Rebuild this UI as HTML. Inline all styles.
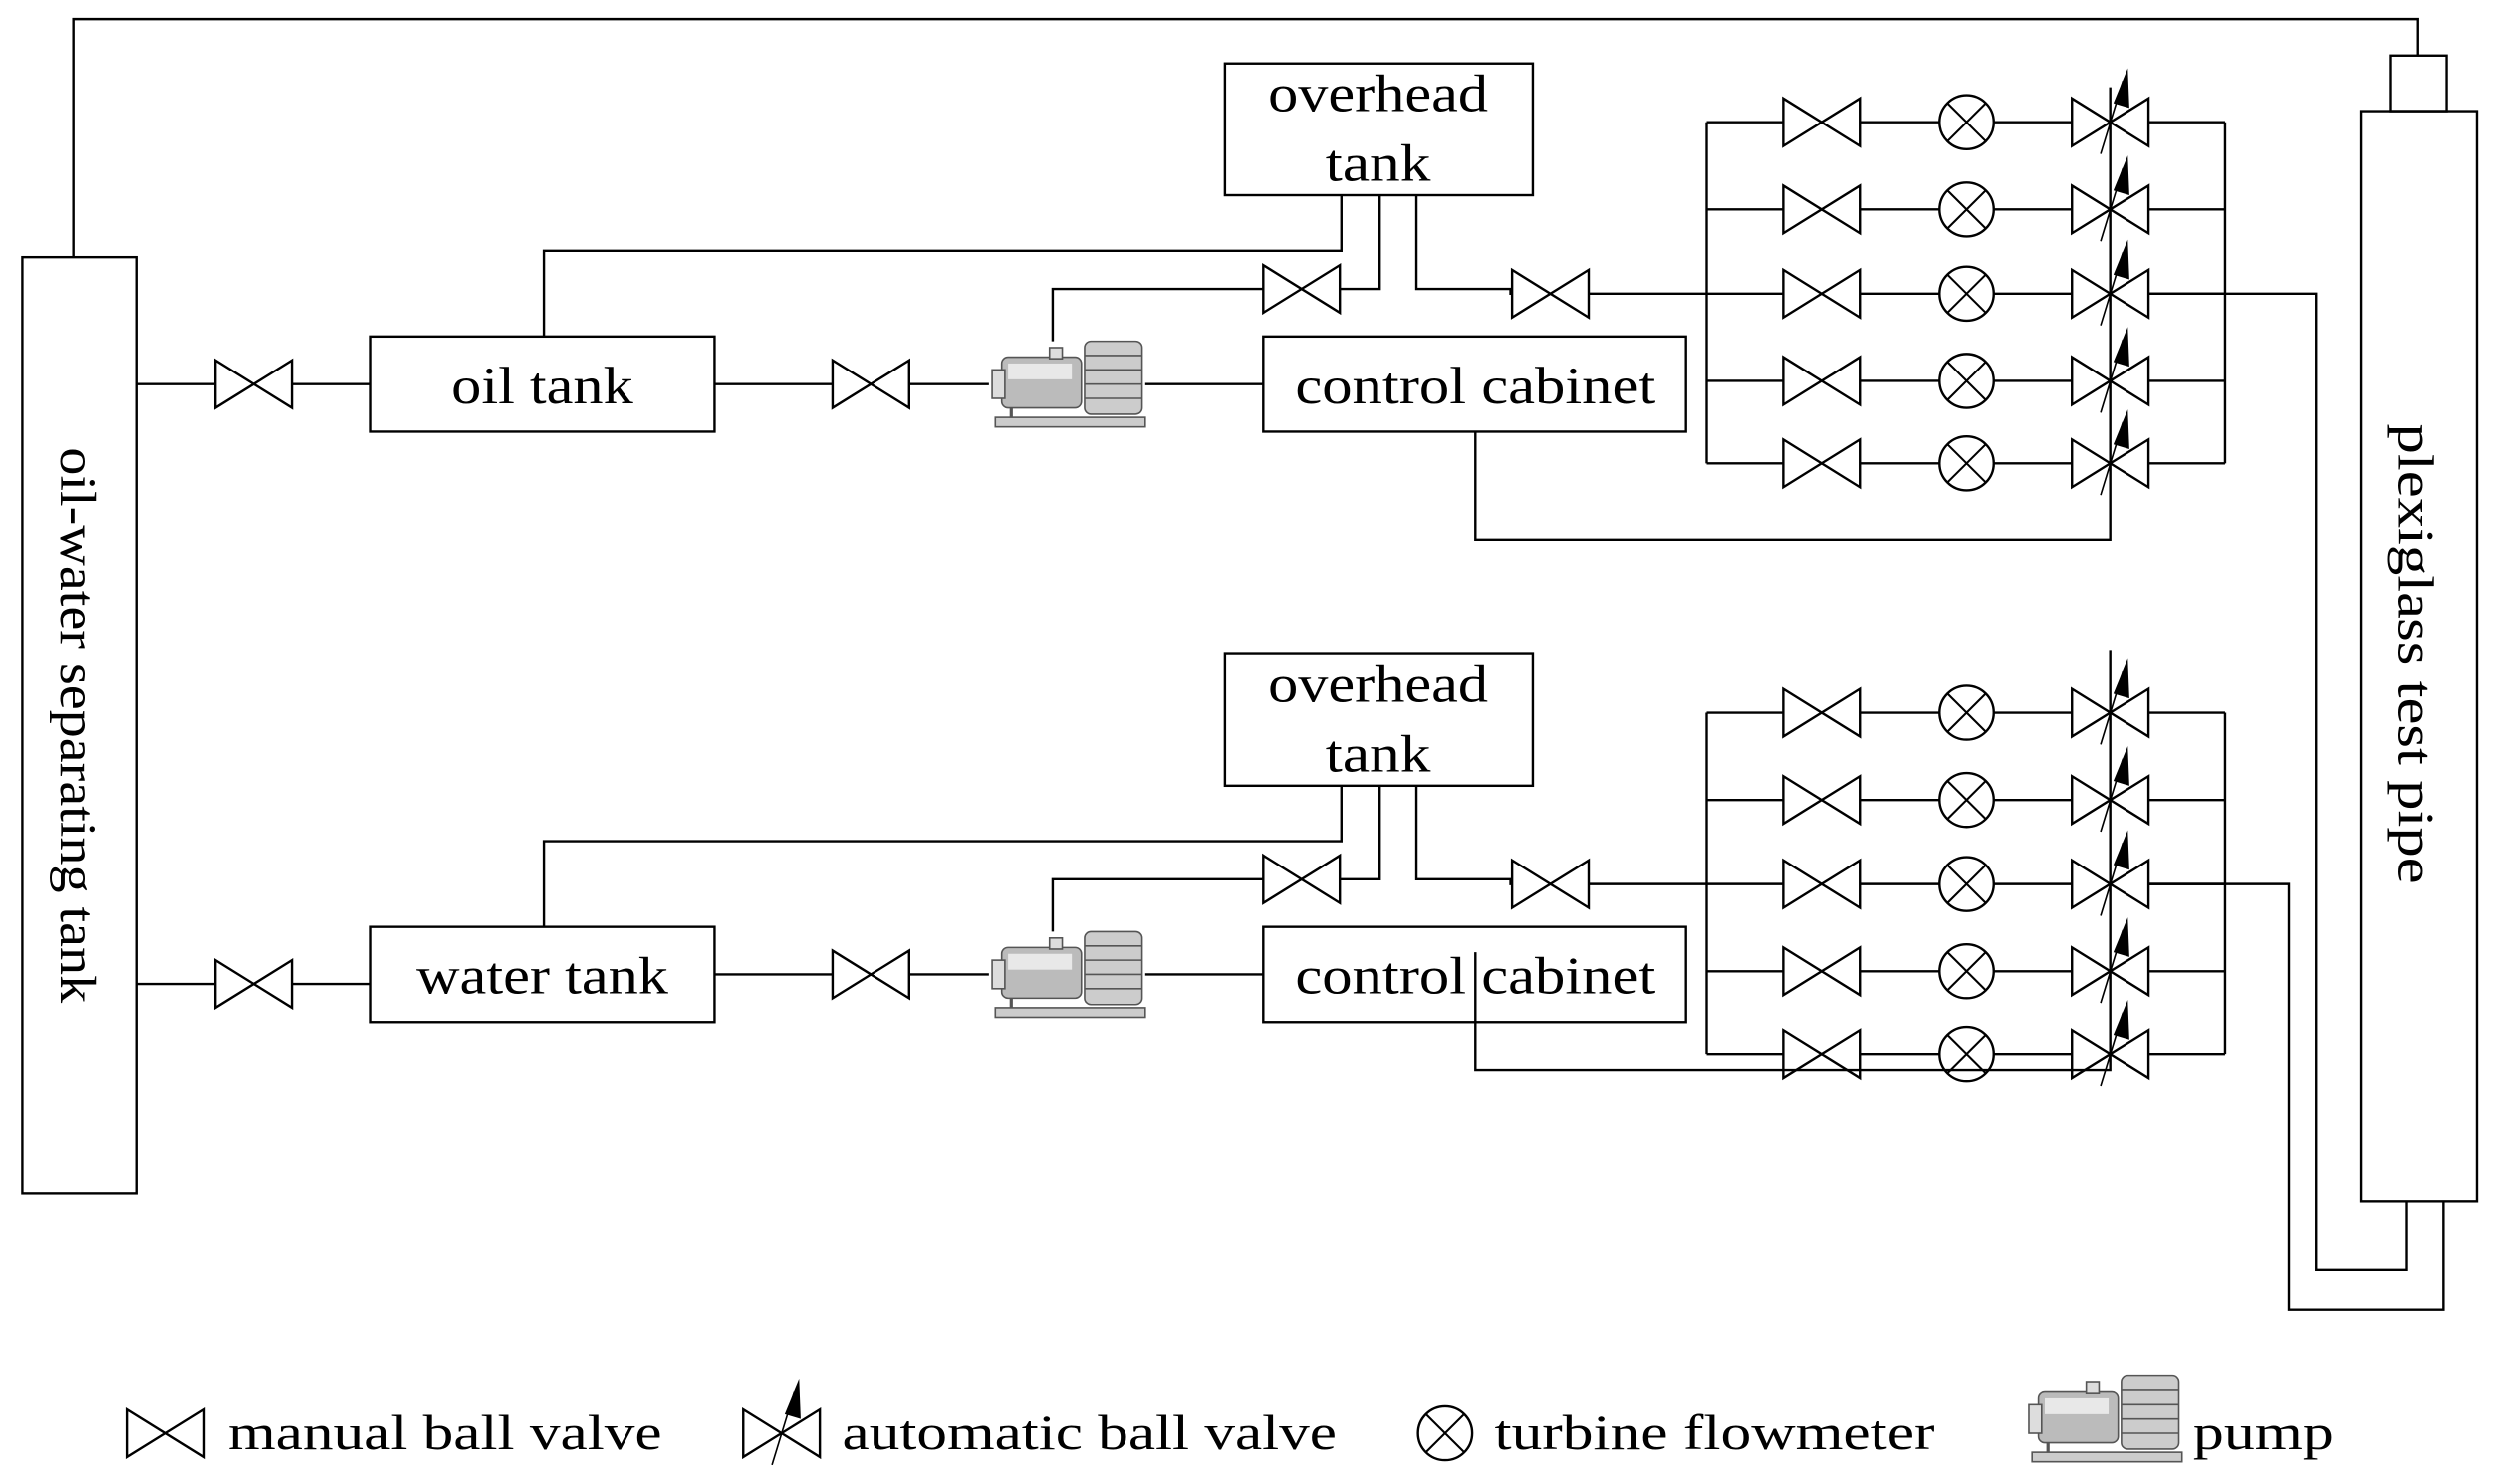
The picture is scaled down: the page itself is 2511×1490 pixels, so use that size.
<!DOCTYPE html>
<html><head><meta charset="utf-8"><style>
html,body{margin:0;padding:0;background:#fff;}
svg{display:block;}
text{font-family:"Liberation Serif",serif;fill:#000;}
</style></head><body>
<svg width="2511" height="1490" viewBox="0 0 1568 935" preserveAspectRatio="none" xmlns="http://www.w3.org/2000/svg">
<defs>
<g id="mv"><path d="M-24,-15 L24,15 L24,-15 L-24,15 Z" fill="#fff" stroke="#000" stroke-width="1.5"/></g>
<g id="av"><path d="M-24,-15 L24,15 L24,-15 L-24,15 Z" fill="#fff" stroke="#000" stroke-width="1.5"/>
<line x1="-6" y1="20" x2="8" y2="-26" stroke="#000" stroke-width="1"/>
<path d="M2,-12 L12,-9 L11,-34 Z" fill="#000"/></g>
<g id="fm"><ellipse cx="0" cy="0" rx="17" ry="17" fill="#fff" stroke="#000" stroke-width="1.5"/>
<line x1="-12" y1="-12" x2="12" y2="12" stroke="#000" stroke-width="1.3"/><line x1="-12" y1="12" x2="12" y2="-12" stroke="#000" stroke-width="1.3"/></g>
<g id="pump">
<rect x="6" y="10" width="50" height="32" rx="4" fill="#bbb" stroke="#555" stroke-width="1"/>
<rect x="10" y="14" width="40" height="10" fill="#e8e8e8"/>
<rect x="0" y="18" width="8" height="18" fill="#ddd" stroke="#555" stroke-width="1"/>
<rect x="58" y="0" width="36" height="46" rx="4" fill="#ccc" stroke="#555" stroke-width="1"/>
<line x1="58" y1="9" x2="94" y2="9" stroke="#555"/><line x1="58" y1="18" x2="94" y2="18" stroke="#555"/>
<line x1="58" y1="27" x2="94" y2="27" stroke="#555"/><line x1="58" y1="36" x2="94" y2="36" stroke="#555"/>
<rect x="36" y="4" width="8" height="7" fill="#ddd" stroke="#555"/>
<rect x="2" y="48" width="94" height="6" fill="#ccc" stroke="#555" stroke-width="1"/>
<line x1="12" y1="42" x2="12" y2="48" stroke="#555" stroke-width="2"/>
</g>
<g id="sys">
<g fill="none" stroke="#000" stroke-width="1.5">
<rect x="232" y="212" width="216" height="60"/>
<line x1="448" y1="242" x2="620" y2="242"/>
<line x1="718" y1="242" x2="792" y2="242"/>
<rect x="792" y="212" width="265" height="60"/>
<rect x="768" y="40" width="193" height="83"/>
<polyline points="341,212 341,158 841,158 841,123"/>
<polyline points="865,123 865,182 660,182 660,215"/>
<polyline points="888,123 888,182 947,182 947,185 1070,185"/>
<line x1="1070" y1="77" x2="1070" y2="292"/>
<line x1="1395" y1="77" x2="1395" y2="292"/>
<line x1="1070" y1="77" x2="1395" y2="77"/>
<line x1="1070" y1="132" x2="1395" y2="132"/>
<line x1="1070" y1="185" x2="1395" y2="185"/>
<line x1="1070" y1="240" x2="1395" y2="240"/>
<line x1="1070" y1="292" x2="1395" y2="292"/>
</g>
<use href="#mv" x="546" y="242"/>
<use href="#mv" x="816" y="182"/>
<use href="#mv" x="972" y="185"/>
<use href="#pump" x="622" y="215"/>
<use href="#mv" x="1142" y="77"/><use href="#fm" x="1233" y="77"/><use href="#av" x="1323" y="77"/>
<use href="#mv" x="1142" y="132"/><use href="#fm" x="1233" y="132"/><use href="#av" x="1323" y="132"/>
<use href="#mv" x="1142" y="185"/><use href="#fm" x="1233" y="185"/><use href="#av" x="1323" y="185"/>
<use href="#mv" x="1142" y="240"/><use href="#fm" x="1233" y="240"/><use href="#av" x="1323" y="240"/>
<use href="#mv" x="1142" y="292"/><use href="#fm" x="1233" y="292"/><use href="#av" x="1323" y="292"/>
<text x="864" y="70" font-size="33" text-anchor="middle" textLength="138" lengthAdjust="spacingAndGlyphs">overhead</text>
<text x="864" y="114" font-size="33" text-anchor="middle" textLength="66" lengthAdjust="spacingAndGlyphs">tank</text>
<text x="925" y="254" font-size="33" text-anchor="middle" textLength="226" lengthAdjust="spacingAndGlyphs">control cabinet</text>
</g>
</defs>
<g fill="none" stroke="#000" stroke-width="1.5">
<rect x="14" y="162" width="72" height="590"/>
<polyline points="46,162 46,12 1516,12 1516,35"/>
<rect x="1499" y="35" width="35" height="35"/>
<rect x="1480" y="70" width="73" height="687"/>
<polyline points="1509,757 1509,800 1452,800 1452,185 1347,185"/>
<polyline points="1532,757 1532,825 1435,825 1435,557 1347,557"/>
</g>
<text transform="translate(38,457) rotate(90)" font-size="32" text-anchor="middle" textLength="350" lengthAdjust="spacingAndGlyphs">oil-water separating tank</text>
<text transform="translate(1504,412) rotate(90)" font-size="32" text-anchor="middle" textLength="290" lengthAdjust="spacingAndGlyphs">plexiglass test pipe</text>

<use href="#sys"/>
<use href="#sys" x="0" y="372"/>
<g fill="none" stroke="#000" stroke-width="1.5">
<line x1="86" y1="242" x2="232" y2="242"/>
<line x1="86" y1="620" x2="232" y2="620"/>
<polyline points="925,272 925,340 1323,340 1323,55" />
<polyline points="925,600 925,674 1323,674 1323,410"/>
</g>
<use href="#mv" x="159" y="242"/>
<use href="#mv" x="159" y="620"/>
<text x="340" y="254" font-size="33" text-anchor="middle" textLength="114" lengthAdjust="spacingAndGlyphs">oil tank</text>
<text x="340" y="626" font-size="33" text-anchor="middle" textLength="158" lengthAdjust="spacingAndGlyphs">water tank</text>

<use href="#mv" x="104" y="903"/>
<text x="143" y="913" font-size="31" textLength="272" lengthAdjust="spacingAndGlyphs">manual ball valve</text>
<use href="#av" x="490" y="903"/>
<text x="528" y="913" font-size="31" textLength="310" lengthAdjust="spacingAndGlyphs">automatic ball valve</text>
<use href="#fm" x="906" y="903"/>
<text x="937" y="913" font-size="31" textLength="276" lengthAdjust="spacingAndGlyphs">turbine flowmeter</text>
<use href="#pump" x="1272" y="867"/>
<text x="1375" y="913" font-size="31" textLength="88" lengthAdjust="spacingAndGlyphs">pump</text>
</svg>
</body></html>
